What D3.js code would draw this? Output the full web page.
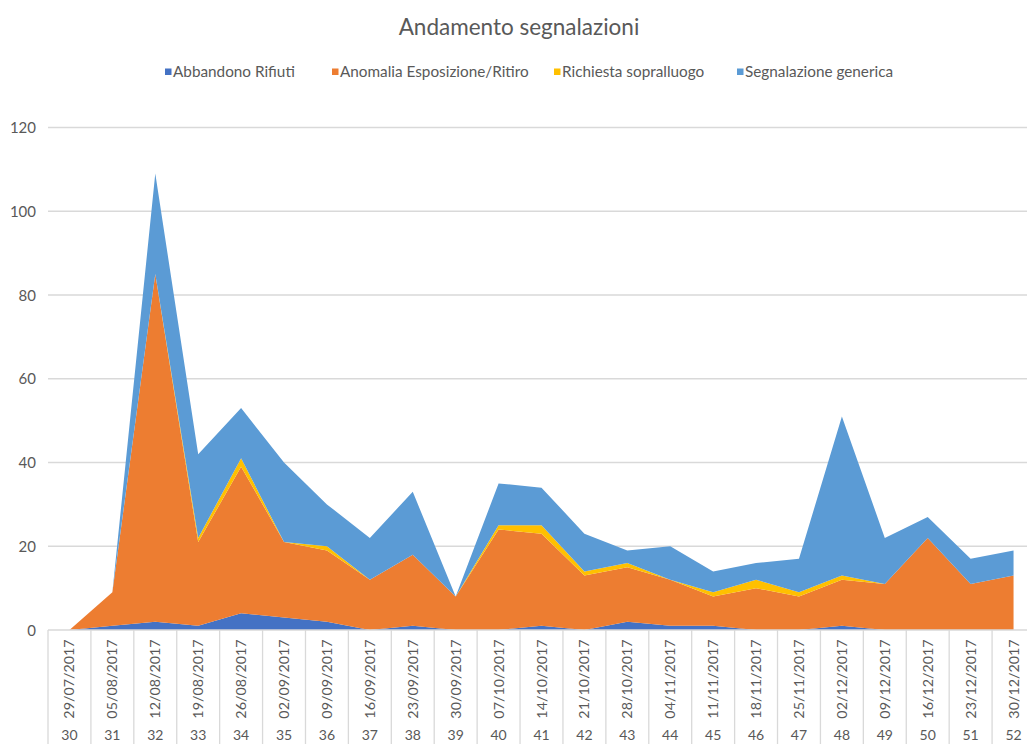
<!DOCTYPE html>
<html>
<head>
<meta charset="utf-8">
<script src="https://cdn.jsdelivr.net/npm/d3@7"></script>
<style>
  body { margin: 0; background: #fff; }
  svg { display: block; font-family: Lato, "Liberation Sans", sans-serif; }
</style>
</head>
<body>
<div id="chart"></div>
<script>
// data
const weeks = ["30","31","32","33","34","35","36","37","38","39","40","41","42","43","44","45","46","47","48","49","50","51","52"];
const dates = ["29/07/2017","05/08/2017","12/08/2017","19/08/2017","26/08/2017","02/09/2017","09/09/2017","16/09/2017","23/09/2017","30/09/2017","07/10/2017","14/10/2017","21/10/2017","28/10/2017","04/11/2017","11/11/2017","18/11/2017","25/11/2017","02/12/2017","09/12/2017","16/12/2017","23/12/2017","30/12/2017"];
const seriesNames = ["Abbandono Rifiuti", "Anomalia Esposizione/Ritiro", "Richiesta sopralluogo", "Segnalazione generica"];
const abbandono    = [0,1,2,1,4,3,2,0,1,0,0,1,0,2,1,1,0,0,1,0,0,0,0];
const anomalia     = [0,8,83,20,35,18,17,12,17,8,24,22,13,13,11,7,10,8,11,11,22,11,13];
const richiesta    = [0,0,0,1,2,0,1,0,0,0,1,2,1,1,0,1,2,1,1,0,0,0,0];
const segnalazione = [0,0,24,20,12,19,10,10,15,0,10,9,9,3,8,5,4,8,38,11,5,6,6];
const yTicks = [0,20,40,60,80,100,120];

const colors = ["#4472c4", "#ed7d31", "#ffc000", "#5b9bd5"];
const width = 1027, height = 744;
const plotLeft = 48, plotRight = 1035, plotTop = 127.5, plotBottom = 630;

const rows = weeks.map((w, i) => ({
  week: w,
  date: dates[i],
  s0: abbandono[i],
  s1: anomalia[i],
  s2: richiesta[i],
  s3: segnalazione[i]
}));

const svg = d3.select("#chart").append("svg")
  .attr("width", width)
  .attr("height", height);

// title
svg.append("text")
  .attr("x", 519)
  .attr("y", 35)
  .attr("text-anchor", "middle")
  .attr("font-size", 22.5)
  .attr("fill", "#595959")
  .text("Andamento segnalazioni");

// legend
const legendX = [165, 332, 554, 737];
seriesNames.forEach((name, i) => {
  svg.append("rect")
    .attr("x", legendX[i])
    .attr("y", 68.5)
    .attr("width", 6.5)
    .attr("height", 6.5)
    .attr("fill", colors[i]);
  svg.append("text")
    .attr("x", legendX[i] + 8)
    .attr("y", 77)
    .attr("font-size", 15.3)
    .attr("fill", "#595959")
    .text(name);
});

let x = d3.scaleBand()
  .domain(weeks)
  .range([plotLeft, plotRight])
  .padding(0);

let y = d3.scaleLinear()
  .domain([0, 120])
  .range([plotBottom, plotTop]);

// gridlines
svg.append("g")
  .selectAll("line")
  .data(yTicks.filter(t => t > 0))
  .enter().append("line")
  .attr("x1", plotLeft)
  .attr("x2", width)
  .attr("y1", d => y(d))
  .attr("y2", d => y(d))
  .attr("stroke", "#d9d9d9")
  .attr("stroke-width", 1.3);

// y labels
svg.append("g")
  .selectAll("text")
  .data(yTicks)
  .enter().append("text")
  .attr("x", 36)
  .attr("y", d => y(d) + 5.5)
  .attr("text-anchor", "end")
  .attr("font-size", 15)
  .attr("fill", "#595959")
  .text(d => d);

// stacked areas
let stack = d3.stack().keys(["s0", "s1", "s2", "s3"]);
let layers = stack(rows);

let area = d3.area()
  .x(d => x(d.data.week) + x.bandwidth() / 2)
  .y0(d => y(d[0]))
  .y1(d => y(d[1]));

svg.append("g")
  .selectAll("path")
  .data(layers)
  .enter().append("path")
  .attr("d", area)
  .attr("fill", (d, i) => colors[i]);

// category axis
svg.append("line")
  .attr("x1", plotLeft)
  .attr("x2", width)
  .attr("y1", plotBottom)
  .attr("y2", plotBottom)
  .attr("stroke", "#d9d9d9")
  .attr("stroke-width", 1.3);

let bounds = weeks.map(w => x(w)).concat([plotRight]);
svg.append("g")
  .selectAll("line")
  .data(bounds)
  .enter().append("line")
  .attr("x1", d => d)
  .attr("x2", d => d)
  .attr("y1", plotBottom)
  .attr("y2", height)
  .attr("stroke", "#d9d9d9")
  .attr("stroke-width", 1.3);

svg.append("g")
  .selectAll("text")
  .data(rows)
  .enter().append("text")
  .attr("transform", d => `translate(${x(d.week) + x.bandwidth() / 2 + 5},679) rotate(-90)`)
  .attr("text-anchor", "middle")
  .attr("font-size", 14.3)
  .attr("fill", "#595959")
  .text(d => d.date);

svg.append("g")
  .selectAll("text")
  .data(rows)
  .enter().append("text")
  .attr("x", d => x(d.week) + x.bandwidth() / 2)
  .attr("y", 740)
  .attr("text-anchor", "middle")
  .attr("font-size", 14)
  .attr("fill", "#595959")
  .text(d => d.week);
</script>
</body>
</html>
